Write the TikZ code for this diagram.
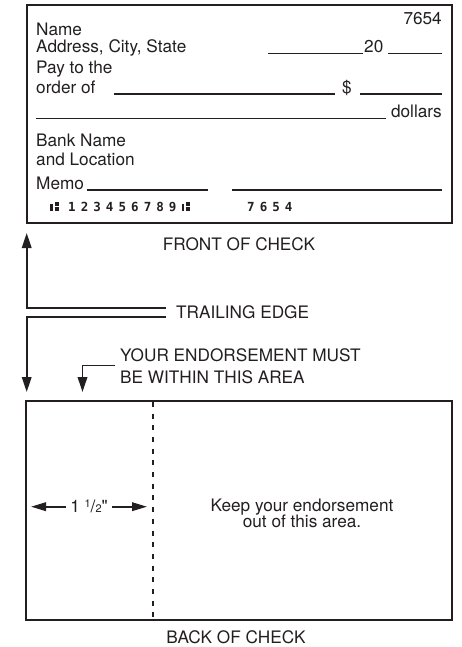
\documentclass[tikz,border=0pt]{standalone}
\usepackage{fontspec}
\setmainfont{TeX Gyre Heros}
\newfontface\heroplain{TeX Gyre Heros}
\newfontfamily\micrfont{DejaVu Sans Mono Bold}
\usetikzlibrary{arrows.meta}
\definecolor{ink}{RGB}{35,31,32}
\newcommand{\transitsym}{\rule{2.8pt}{6.5pt}\kern1.8pt\rlap{\rule[5pt]{4.2pt}{3.6pt}}\rule{4.2pt}{3.6pt}}
\newcommand{\mcA}[1]{\makebox[12.6pt][l]{#1}}
\newcommand{\mcT}{\makebox[18pt][l]{\transitsym}}
\tikzset{
  box/.style={draw=ink, line width=2.1pt},
  uline/.style={draw=ink, line width=1.5pt},
  conn/.style={draw=ink, line width=1.9pt},
  tipped/.style={-{Triangle[length=15pt,width=9.5pt]}},
  lbl/.style={inner sep=0pt, text=ink, font=\fontsize{17.2}{17}\selectfont},
  micr/.style={inner sep=0pt, text=ink, font=\micrfont\fontsize{12.5}{12}\selectfont},
}
\begin{document}
\begin{tikzpicture}[x=1pt,y=-1pt]
\useasboundingbox (0,0) rectangle (462,647);
\fill[white] (0,0) rectangle (462,647);
% ---------- front of check ----------
\draw[box] (27,5) rectangle (452,223);
\node[lbl, anchor=base east] (num) at (442,25) {7654};
\node[lbl, anchor=base west] (name) at (36,36) {Name};
\node[lbl, anchor=base west] (addr) at (36,52.7) {Address, City, State};
\draw[uline] (268,53.5) -- (363,53.5);
\node[lbl, anchor=base west] (twenty) at (364,53) {20};
\draw[uline] (388,53.5) -- (442,53.5);
\node[lbl, anchor=base west] (pay1) at (36,74) {Pay to the};
\node[lbl, anchor=base west] (pay2) at (36,93.3) {order of};
\draw[uline] (114,93.8) -- (335,93.8);
\node[lbl, anchor=base west] (dollar) at (342,93.3) {\$};
\draw[uline] (360,93.8) -- (442,93.8);
\draw[uline] (36,118.3) -- (386,118.3);
\node[lbl, anchor=base east] (dollars) at (442,118) {dollars};
\node[lbl, anchor=base west] (bank1) at (36,146.7) {Bank Name};
\node[lbl, anchor=base west] (bank2) at (36,165) {and Location};
\node[lbl, anchor=base west] (memo) at (36,189.3) {Memo};
\draw[uline] (87,189.8) -- (208,189.8);
\draw[uline] (232,189.8) -- (442,189.8);
\node[micr, anchor=base west] (routing) at (50,211) {\mcT\mcA{1}\mcA{2}\mcA{3}\mcA{4}\mcA{5}\mcA{6}\mcA{7}\mcA{8}\mcA{9}\transitsym};
\node[micr, anchor=base west] (checkno) at (247,211) {\mcA{7}\mcA{6}\mcA{5}4};
\node[lbl, anchor=base] (front) at (239,250) {FRONT OF CHECK};
% ---------- trailing edge ----------
\node[lbl, anchor=base west] (trail) at (176,318) {TRAILING EDGE};
\coordinate (teA) at (166,308.3);
\coordinate (teB) at (166,317);
\coordinate (upTip) at (26.7,233);
\coordinate (downTip) at (26.7,392);
\draw[conn, tipped] (teA) -- (upTip |- teA) -- (upTip);
\draw[conn, tipped] (teB) -- (downTip |- teB) -- (downTip);
% ---------- endorsement ----------
\node[lbl, anchor=base west] (end1) at (120,361.7) {YOUR ENDORSEMENT MUST};
\node[lbl, anchor=base west] (end2) at (120,383.3) {BE WITHIN THIS AREA};
\coordinate (enA) at (115,365.5);
\coordinate (enTip) at (82.5,392);
\draw[conn, tipped] (enA) -- (enTip |- enA) -- (enTip);
% ---------- back of check ----------
\draw[box] (26,400.7) rectangle (452,620);
\draw[ink, line width=2.2pt, dash pattern=on 5pt off 6.7pt] (152.7,401.8) -- (152.7,620);
\node[lbl, anchor=base] (half) at (89,512.5) {1 {\fontsize{11}{11}\selectfont\raisebox{5pt}{1}}/{\fontsize{11}{11}\selectfont 2}{\heroplain"}};
\coordinate (hlA) at (66,506.7);
\coordinate (hlTip) at (31,506.7);
\coordinate (hrA) at (112,506.7);
\coordinate (hrTip) at (147,506.7);
\draw[conn, -{Triangle[length=15pt,width=8.5pt]}] (hlA) -- (hlTip);
\draw[conn, -{Triangle[length=15pt,width=8.5pt]}] (hrA) -- (hrTip);
\node[lbl, anchor=base] (keep1) at (302,511) {Keep your endorsement};
\node[lbl, anchor=base] (keep2) at (302,527.5) {out of this area.};
\node[lbl, anchor=base] (back) at (236,643.3) {BACK OF CHECK};
\end{tikzpicture}
\end{document}
